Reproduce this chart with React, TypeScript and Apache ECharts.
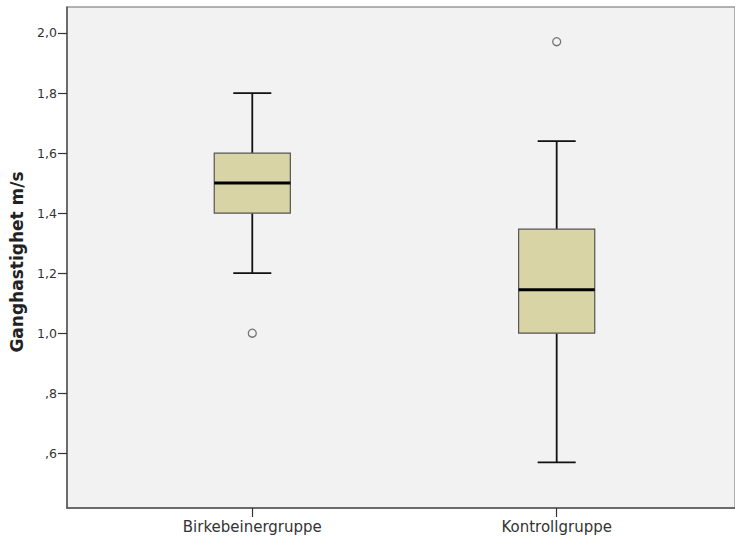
import React, { useEffect, useRef } from "react";
import * as echarts from "echarts";

const categories = ["Birkebeinergruppe", "Kontrollgruppe"];
const categoryPositions = [1, 2];
// [min, Q1, median, Q3, max]
const boxValues = [
  [1.2, 1.4, 1.5, 1.6, 1.8],
  [0.57, 1.0, 1.145, 1.347, 1.64],
];
const outliers = [
  [1, 1.0],
  [2, 1.971],
];
const yTicks = [0.6, 0.8, 1.0, 1.2, 1.4, 1.6, 1.8, 2.0];

const fmtY = (v: number) => {
  const s = v.toFixed(1).replace(".", ",");
  return s.startsWith("0") ? s.slice(1) : s;
};

export default function App() {
  const ref = useRef<HTMLDivElement>(null);
  useEffect(() => {
    if (!ref.current) return;
    const chart = echarts.init(ref.current, undefined, { renderer: "svg" });
    const boxData = boxValues.map((b, i) => [categoryPositions[i], ...b]);
    chart.setOption({
      animation: false,
      backgroundColor: "#ffffff",
      textStyle: { fontFamily: "DejaVu Sans" },
      grid: {
        left: 67,
        top: 7,
        bottom: 35,
        right: 0,
        outerBoundsMode: "none",
        containLabel: false,
        show: true,
        backgroundColor: "#f2f2f2",
        borderColor: "#999999",
        borderWidth: 1.5,
      },
      xAxis: {
        type: "value",
        min: 0.3913,
        max: 2.5858,
        splitLine: { show: false },
        axisLine: { show: true, onZero: false, lineStyle: { color: "#555555", width: 1.5 } },
        axisTick: {
          show: true,
          length: 9,
          customValues: categoryPositions,
          lineStyle: { color: "#333333", width: 1.2 },
        },
        axisLabel: {
          customValues: categoryPositions,
          formatter: (v: number) => {
            const i = categoryPositions.indexOf(v);
            return i >= 0 ? categories[i] : "";
          },
          color: "#333333",
          fontSize: 15,
          margin: 11,
          fontFamily: "DejaVu Sans",
        },
      },
      yAxis: {
        type: "value",
        min: 0.4178,
        max: 2.0866,
        name: "Ganghastighet m/s",
        nameLocation: "middle",
        nameGap: 42,
        nameTextStyle: {
          fontSize: 17,
          fontWeight: "bold",
          color: "#222222",
          fontFamily: "DejaVu Sans",
          padding: [0, 9, 0, 0],
        },
        splitLine: { show: false },
        axisLine: { show: true, onZero: false, lineStyle: { color: "#555555", width: 1.5 } },
        axisTick: {
          show: true,
          length: 9,
          customValues: yTicks,
          lineStyle: { color: "#333333", width: 1.2 },
        },
        axisLabel: {
          customValues: yTicks,
          formatter: (v: number) => fmtY(v),
          color: "#333333",
          fontSize: 12.5,
          margin: 10,
          fontFamily: "DejaVu Sans",
        },
      },
      series: [
        {
          type: "custom",
          data: boxData,
          encode: { x: 0, y: [1, 2, 3, 4, 5] },
          renderItem: (params: any, api: any) => {
            const x = api.value(0);
            const mn = api.coord([x, api.value(1)]);
            const q1 = api.coord([x, api.value(2)]);
            const md = api.coord([x, api.value(3)]);
            const q3 = api.coord([x, api.value(4)]);
            const mx = api.coord([x, api.value(5)]);
            const w = api.size([0.25, 0])[0];
            const cx = mn[0];
            const hw = w / 2;
            const cw = w / 4;
            const lineStyle = { stroke: "#111111", lineWidth: 1.8 };
            return {
              type: "group",
              children: [
                { type: "line", shape: { x1: cx, y1: mx[1], x2: cx, y2: q3[1] }, style: lineStyle },
                { type: "line", shape: { x1: cx, y1: q1[1], x2: cx, y2: mn[1] }, style: lineStyle },
                { type: "line", shape: { x1: cx - cw, y1: mx[1], x2: cx + cw, y2: mx[1] }, style: lineStyle },
                { type: "line", shape: { x1: cx - cw, y1: mn[1], x2: cx + cw, y2: mn[1] }, style: lineStyle },
                {
                  type: "rect",
                  shape: { x: cx - hw, y: q3[1], width: w, height: q1[1] - q3[1] },
                  style: { fill: "#d9d4a5", stroke: "#555555", lineWidth: 1.2 },
                },
                {
                  type: "line",
                  shape: { x1: cx - hw, y1: md[1], x2: cx + hw, y2: md[1] },
                  style: { stroke: "#000000", lineWidth: 3 },
                },
              ],
            };
          },
        },
        {
          type: "scatter",
          data: outliers,
          symbol: "circle",
          symbolSize: 8,
          itemStyle: { color: "rgba(0,0,0,0)", borderColor: "#555555", borderWidth: 1.3 },
        },
      ],
    });
    return () => chart.dispose();
  }, []);
  return <div ref={ref} style={{ width: 735, height: 543, position: "absolute", left: 0, top: 0 }} />;
}
